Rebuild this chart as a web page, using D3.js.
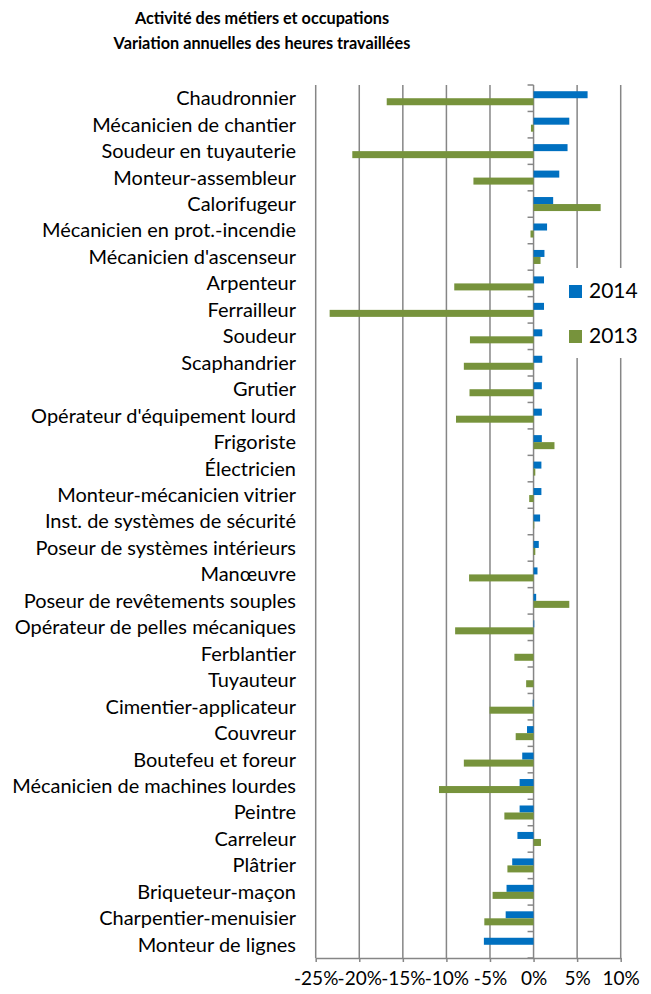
<!DOCTYPE html>
<html>
<head>
<meta charset="utf-8">
<script src="https://cdn.jsdelivr.net/npm/d3@7"></script>
<style>
  html, body { margin: 0; padding: 0; background: #fff; }
  svg { display: block; }
  text { font-family: Lato, "Open Sans", sans-serif; fill: #000; }
</style>
</head>
<body>
<svg id="chart" width="651" height="994"></svg>
<script>
const categories = [
  "Chaudronnier", "Mécanicien de chantier", "Soudeur en tuyauterie", "Monteur-assembleur",
  "Calorifugeur", "Mécanicien en prot.-incendie", "Mécanicien d'ascenseur", "Arpenteur",
  "Ferrailleur", "Soudeur", "Scaphandrier", "Grutier", "Opérateur d'équipement lourd",
  "Frigoriste", "Électricien", "Monteur-mécanicien vitrier", "Inst. de systèmes de sécurité",
  "Poseur de systèmes intérieurs", "Manœuvre", "Poseur de revêtements souples",
  "Opérateur de pelles mécaniques", "Ferblantier", "Tuyauteur", "Cimentier-applicateur",
  "Couvreur", "Boutefeu et foreur", "Mécanicien de machines lourdes", "Peintre",
  "Carreleur", "Plâtrier", "Briqueteur-maçon", "Charpentier-menuisier", "Monteur de lignes"
];
const values2014 = [6.2, 4.1, 3.9, 2.95, 2.25, 1.55, 1.25, 1.2, 1.2, 1.0, 1.0, 0.95, 0.95,
  0.95, 0.9, 0.9, 0.75, 0.6, 0.45, 0.3, 0.08, 0, 0, -0.1, -0.75, -1.3, -1.6, -1.6, -1.85,
  -2.45, -3.1, -3.2, -5.7];
const values2013 = [-16.85, -0.3, -20.8, -6.9, 7.7, -0.35, 0.8, -9.1, -23.4, -7.3, -8.0,
  -7.35, -8.9, 2.4, 0.2, -0.5, 0.08, 0.2, -7.4, 4.1, -9.0, -2.2, -0.85, -5.05, -2.05, -8.0,
  -10.85, -3.35, 0.85, -3.0, -4.7, -5.65, 0];
const seriesNames = ["2014", "2013"];
const seriesColors = ["#0070C0", "#77933C"];
const tickValues = [-25, -20, -15, -10, -5, 0, 5, 10];
const tickLabels = ["-25%", "-20%", "-15%", "-10%", "-5%", "0%", "5%", "10%"];
const titleLines = ["Activité des métiers et occupations", "Variation annuelles des heures travaillées"];

const svg = d3.select("#chart");
const plot = { left: 315.7, right: 620.7, top: 85, bottom: 958 };
const gridColor = "#868686";

const x = d3.scaleLinear().domain([-25, 10]).range([plot.left, plot.right]);
const y = d3.scaleBand().domain(categories).range([plot.top, plot.bottom])
  .paddingInner(0.47).paddingOuter(0.235);
const ySub = d3.scaleBand().domain(seriesNames).range([0, y.bandwidth()]);

const rows = categories.map((c, i) => ({ cat: c, vals: [values2014[i], values2013[i]] }));

// Title
const title = svg.append("g");
titleLines.forEach((t, i) => {
  title.append("text").attr("x", 262).attr("y", 24 + i * 25)
    .attr("text-anchor", "middle").attr("font-weight", "bold").attr("font-size", 17)
    .text(t);
});
// fit title width
const tl = title.selectAll("text").nodes()[1];
const tw = tl.getComputedTextLength();
title.selectAll("text").attr("font-size", 17 * 297 / tw);

// Gridlines
svg.append("g").selectAll("line").data(tickValues).join("line")
  .attr("x1", d => x(d)).attr("x2", d => x(d))
  .attr("y1", plot.top).attr("y2", plot.bottom)
  .attr("stroke", gridColor).attr("stroke-width", 1.5);

// Bottom axis
const xAxis = d3.axisBottom(x).tickValues(tickValues)
  .tickFormat((d, i) => tickLabels[i]).tickSize(4).tickSizeOuter(0);
const gx = svg.append("g").attr("transform", `translate(0,${plot.bottom})`).call(xAxis);
gx.select(".domain").attr("stroke", gridColor).attr("stroke-width", 1.5);
gx.selectAll(".tick line").attr("stroke", gridColor).attr("stroke-width", 1.5);
gx.selectAll(".tick text").attr("font-family", "Lato, sans-serif")
  .attr("font-size", 19).attr("fill", "#000").attr("y", 14).attr("dy", "0.71em");

// Category tick marks on zero line
const boundaries = categories.map(c => y(c) - y.step() * y.paddingInner() / 2).concat([plot.bottom]);
svg.append("g").selectAll("line").data(boundaries).join("line")
  .attr("x1", x(0) - 6).attr("x2", x(0))
  .attr("y1", d => d).attr("y2", d => d)
  .attr("stroke", gridColor).attr("stroke-width", 1.5);

// Bars
const groups = svg.append("g").selectAll("g").data(rows).join("g")
  .attr("transform", d => `translate(0,${y(d.cat)})`);
groups.selectAll("rect").data(d => d.vals.map((v, i) => ({ v, s: seriesNames[i], c: seriesColors[i] })))
  .join("rect")
  .attr("x", d => x(Math.min(0, d.v)))
  .attr("width", d => Math.abs(x(d.v) - x(0)))
  .attr("y", d => ySub(d.s))
  .attr("height", ySub.bandwidth())
  .attr("fill", d => d.c);

// Category labels
const labels = svg.append("g").selectAll("text").data(categories).join("text")
  .attr("x", 296).attr("y", d => y(d) + y.bandwidth() / 2)
  .attr("dy", "0.35em").attr("text-anchor", "end").attr("font-size", 20)
  .text(d => d);
const longest = labels.nodes()[categories.indexOf("Mécanicien de machines lourdes")].getComputedTextLength();
labels.attr("font-size", 20 * 284 / longest);

// Legend
const legend = svg.append("g");
legend.append("rect").attr("x", 558).attr("y", 268).attr("width", 93).attr("height", 90).attr("fill", "#fff");
seriesNames.forEach((s, i) => {
  legend.append("rect").attr("x", 569).attr("y", 285 + i * 45).attr("width", 13).attr("height", 13)
    .attr("fill", seriesColors[i]);
  legend.append("text").attr("x", 589).attr("y", 298 + i * 45).attr("font-size", 21).text(s);
});
</script>
</body>
</html>
